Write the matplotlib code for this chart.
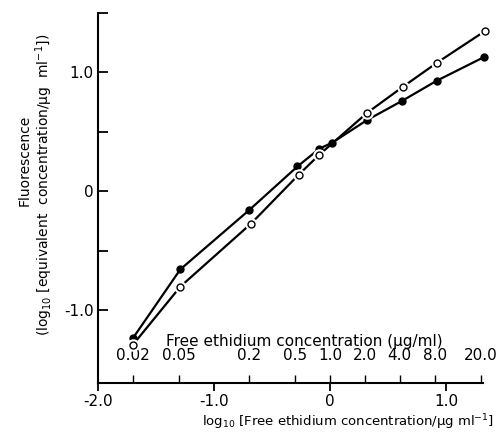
import numpy as np
import matplotlib
matplotlib.use("Agg")
import matplotlib.pyplot as plt
from matplotlib.ticker import FixedLocator, FixedFormatter

plt.rcParams['font.family'] = ['DejaVu Sans']
plt.rcParams['mathtext.fontset'] = 'dejavusans'

# data (log10 free ethidium concentration vs log10 equivalent concentration)
filled_x = [-1.70, -1.29, -0.70, -0.28, -0.09, 0.02, 0.32, 0.62, 0.92, 1.33]
filled_y = [-1.235, -0.655, -0.16, 0.21, 0.36, 0.41, 0.60, 0.76, 0.93, 1.13]
open_x = [-1.70, -1.29, -0.68, -0.27, -0.09, 0.32, 0.63, 0.92, 1.34]
open_y = [-1.29, -0.80, -0.27, 0.14, 0.31, 0.66, 0.88, 1.08, 1.35]

conc_labels = ["0.02", "0.05", "0.2", "0.5", "1.0", "2.0", "4.0", "8.0", "20.0"]
conc_values = [0.02, 0.05, 0.2, 0.5, 1.0, 2.0, 4.0, 8.0, 20.0]
x_major = [-2.0, -1.0, 0.0, 1.0]
x_major_labels = ["-2.0", "-1.0", "0", "1.0"]
y_major = [-1.0, 0.0, 1.0]
y_major_labels = ["-1.0", "0", "1.0"]
y_minor = [-0.5, 0.5, 1.5]

fig = plt.figure(figsize=(5.0, 4.36), dpi=100)
ax = fig.add_axes([0.196, 0.1216, 0.770, 0.8486])
ax.set_xlim(-2.0, 1.32)
ax.set_ylim(-1.61, 1.5)

for s in ['top', 'right']:
    ax.spines[s].set_visible(False)
for s in ['left', 'bottom']:
    ax.spines[s].set_linewidth(1.5)

# lines
ax.plot(filled_x, filled_y, color='black', lw=1.6, marker='o', ms=5,
        mfc='black', mec='black', zorder=3, clip_on=False)
ax.plot(open_x, open_y, color='black', lw=1.6, zorder=2, clip_on=False)
ax.plot(open_x, open_y, ls='none', marker='o', ms=8, mfc='white', mec='white',
        zorder=4, clip_on=False)
ax.plot(open_x, open_y, ls='none', marker='o', ms=5, mfc='white', mec='black',
        mew=1.0, zorder=5, clip_on=False)

# y ticks (inward)
ax.yaxis.set_major_locator(FixedLocator(y_major))
ax.yaxis.set_major_formatter(FixedFormatter(y_major_labels))
ax.yaxis.set_minor_locator(FixedLocator(y_minor))
ax.tick_params(axis='y', which='both', direction='in', length=7, width=1.3,
               labelsize=11, pad=3)

# x ticks: major outward, concentration ticks inward with labels above
ax.xaxis.remove_overlapping_locs = False
ax.xaxis.set_major_locator(FixedLocator(x_major))
ax.xaxis.set_major_formatter(FixedFormatter(x_major_labels))
ax.xaxis.set_minor_locator(FixedLocator(list(np.log10(conc_values))))
ax.xaxis.set_minor_formatter(FixedFormatter(conc_labels))
ax.tick_params(axis='x', which='major', direction='out', length=6, width=1.3,
               labelsize=11, pad=2)
ax.tick_params(axis='x', which='minor', direction='in', length=6, width=1.0,
               labelsize=11, pad=-25)

ax.text(0.535, 0.112, "Free ethidium concentration (\u00b5g/ml)", transform=ax.transAxes,
        ha='center', va='center', fontsize=11)

ax.set_xlabel("log$_{10}$ [Free ethidium concentration/\u00b5g ml$^{-1}$]", fontsize=9.5)
ax.xaxis.set_label_coords(0.65, -0.08)

fig.text(0.05, 0.633, "Fluorescence", rotation=90, ha='center', va='center', fontsize=10)
fig.text(0.088, 0.576, "(log$_{10}$ [equivalent  concentration/\u00b5g  ml$^{-1}$])",
         rotation=90, ha='center', va='center', fontsize=10)

fig.savefig("out.png", dpi=100)
